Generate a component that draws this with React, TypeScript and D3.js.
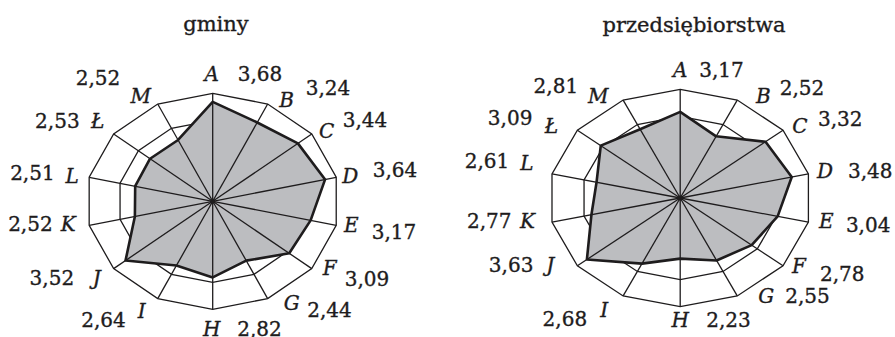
import React from 'react';
import * as d3 from 'd3';

// axis letters, clockwise from the top
const axes = ['A', 'B', 'C', 'D', 'E', 'F', 'G', 'H', 'I', 'J', 'K', 'L', 'Ł', 'M'];
const gminy = [3.68, 3.24, 3.44, 3.64, 3.17, 3.09, 2.44, 2.82, 2.64, 3.52, 2.52, 2.51, 2.53, 2.52];
const przedsiebiorstwa = [3.17, 2.52, 3.32, 3.48, 3.04, 2.78, 2.55, 2.23, 2.68, 3.63, 2.77, 2.61, 3.09, 2.81];
const titles = ['gminy', 'przedsiębiorstwa'];
const rings = [3, 4];
const maxValue = 4;

// label nudges: letter [dx, dy] from the outer vertex, value [gap, dy] from the letter
const letterNudgeLeft = [[-1, -12], [19, 3], [15, 4], [14, 5.5], [15, 7], [18, 6], [24, 11], [-1, 27], [-16, 19], [-17, 16], [-21, 6], [-17, 6], [-16, -6], [-17, -1]];
const valueNudgeLeft = [[26, 0], [19, -12], [16, -11], [22.5, -6], [20.5, 7], [15, 11], [15.5, 7], [25.5, 0], [-16, 9], [-22.5, 0], [-15.5, 0], [-17.5, -3], [-18, 0], [-20.5, -18]];
const letterNudgeRight = [[0, -12.6], [26, 2.6], [17, 3], [16.6, 4.2], [18, 6], [16, 7], [29, 7.4], [0, 20.6], [-19, 21], [-27, 6], [-24.5, 6], [-25, -4], [-26, 3], [-25, 3]];
const valueNudgeRight = [[19, 0], [16.5, -8], [18, -7], [23, 0], [19.5, 4], [21, 8], [19, 0], [26, 0], [-17, 9], [-17, 0], [-16, 0], [-17.7, -1.7], [-19, -8], [-20, -10]];

const W = 895, H = 337;
const FONT = '"DejaVu Serif", serif';
const INK = '#1e1c1d';

const plFormat = d3.formatLocale({ decimal: ',', thousands: ' ', grouping: [3], currency: ['', ''] }).format('.2f');

type RadarProps = {
  values: number[];
  title: string;
  cx: number; cy: number; rx: number; ry: number;
  titleX: number; titleY: number;
  letterNudge: number[][];
  valueNudge: number[][];
};

// the printed font is a bit heavier than DejaVu, a thin stroke thickens it
const textStyle = { fontFamily: FONT, fontSize: 20, fill: INK, stroke: INK, strokeWidth: 0.35 };

const Radar = ({ values, title, cx, cy, rx, ry, titleX, titleY, letterNudge, valueNudge }: RadarProps) => {
  const angle = d3.scaleLinear().domain([0, axes.length]).range([0, 2 * Math.PI]);
  const sx = d3.scaleLinear().domain([0, maxValue]).range([0, rx]);
  const sy = d3.scaleLinear().domain([0, maxValue]).range([0, ry]);
  const pt = (i: number, v: number): [number, number] => [
    cx + sx(v) * Math.sin(angle(i)),
    cy - sy(v) * Math.cos(angle(i)),
  ];
  const closed = d3.line().curve(d3.curveLinearClosed);

  return (
    <g>
      <text x={titleX} y={titleY} textAnchor="middle" style={{ ...textStyle, fontSize: 21 }}>{title}</text>
      {/* grid rings */}
      {rings.map(r => (
        <path key={r} d={closed(axes.map((_, i) => pt(i, r))) || ''} fill="none" stroke={INK} strokeWidth={1.3} />
      ))}
      {/* shaded area */}
      <path d={closed(values.map((v, i) => pt(i, v))) || ''} fill="#bcbdc0" stroke="none" />
      {/* spokes */}
      {axes.map((a, i) => {
        const [x, y] = pt(i, maxValue);
        return <line key={a} x1={cx} y1={cy} x2={x} y2={y} stroke={INK} strokeWidth={1.3} />;
      })}
      <circle cx={cx} cy={cy} r={2.5} fill={INK} />
      {/* outline */}
      <path d={closed(values.map((v, i) => pt(i, v))) || ''} fill="none" stroke={INK} strokeWidth={2.6} strokeLinejoin="round" />
      {/* labels */}
      {axes.map((a, i) => {
        const [x, y] = pt(i, maxValue);
        const lx = x + letterNudge[i][0];
        const ly = y + letterNudge[i][1];
        const right = i <= 7;
        return (
          <g key={a}>
            <text x={lx} y={ly} textAnchor="middle" fontStyle="italic" style={textStyle}>{a}</text>
            <text x={lx + valueNudge[i][0]} y={ly + valueNudge[i][1]} textAnchor={right ? 'start' : 'end'}
              style={textStyle}>{plFormat(values[i])}</text>
          </g>
        );
      })}
    </g>
  );
};

export default function App() {
  return (
    <svg width={W} height={H} style={{ position: 'absolute', left: 0, top: 0, background: '#fff' }}>
      <Radar values={gminy} title={titles[0]} cx={212.7} cy={201.3} rx={126.7} ry={108}
        titleX={216} titleY={31} letterNudge={letterNudgeLeft} valueNudge={valueNudgeLeft} />
      <Radar values={przedsiebiorstwa} title={titles[1]} cx={680.2} cy={198} rx={131.5} ry={108.7}
        titleX={694} titleY={32} letterNudge={letterNudgeRight} valueNudge={valueNudgeRight} />
    </svg>
  );
}
